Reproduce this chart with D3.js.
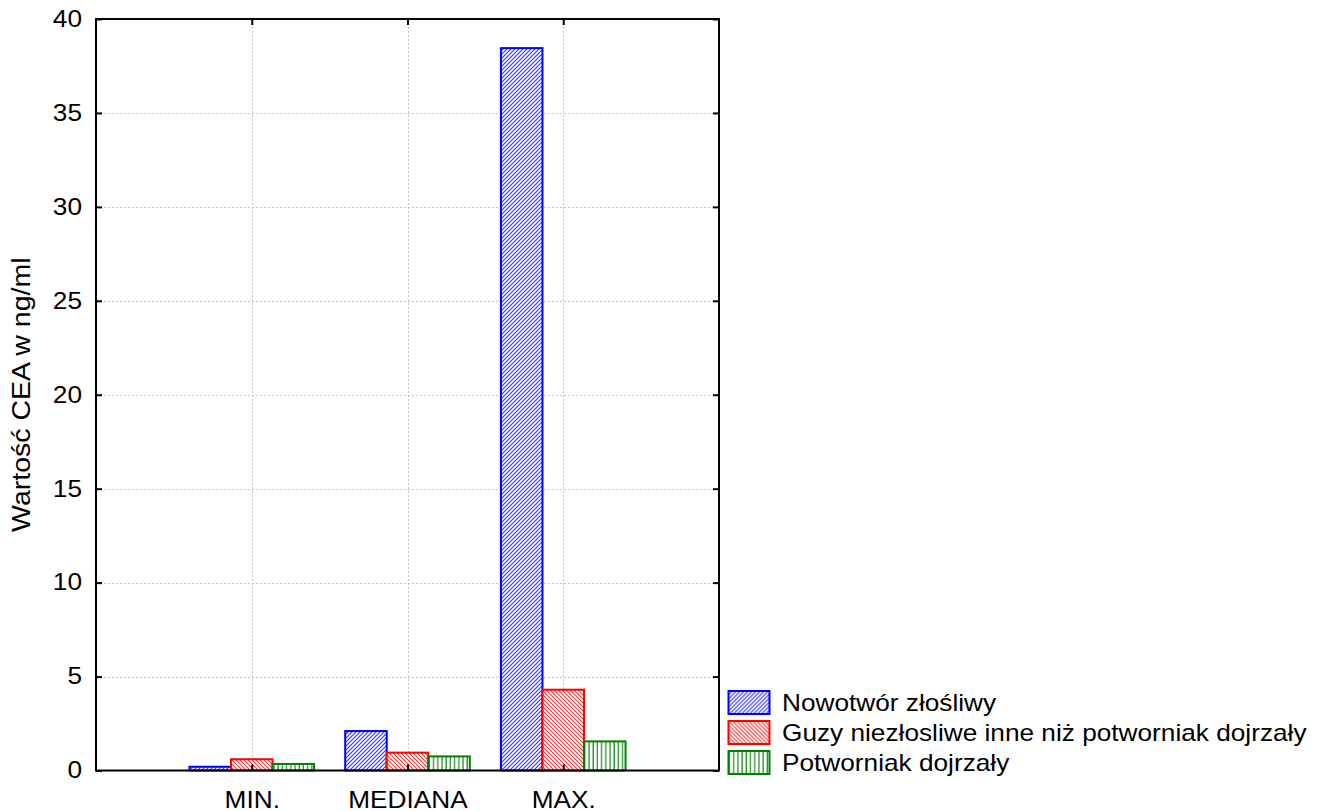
<!DOCTYPE html>
<html>
<head>
<meta charset="utf-8">
<script src="https://cdn.jsdelivr.net/npm/d3@7"></script>
<style>
  html, body { margin: 0; padding: 0; background: #fff; }
  svg { display: block; font-family: "Liberation Sans", Arial, sans-serif; }
</style>
</head>
<body>
<svg id="chart" width="1328" height="811"></svg>
<script>
// Categories along the x axis
const categories = ["MIN.", "MEDIANA", "MAX."];
// Series names (legend order)
const seriesNames = [
  "Nowotwór złośliwy",
  "Guzy niezłosliwe inne niż potworniak dojrzały",
  "Potworniak dojrzały"
];
// CEA values (ng/ml) per series, aligned with categories
const malignant = [0.2, 2.1, 38.45];
const benignOther = [0.6, 0.95, 4.3];
const matureTeratoma = [0.35, 0.75, 1.55];
// Y axis ticks
const yTicks = [0, 5, 10, 15, 20, 25, 30, 35, 40];
const yTitle = "Wartość CEA w ng/ml";

const seriesValues = [malignant, benignOther, matureTeratoma];
const strokeColors = ["#0000ff", "#ff0000", "#008000"];

const svg = d3.select("#chart");
const frame = { left: 96, right: 719, top: 19, bottom: 770.5 };
const fontSize = "23px";
const stretch = 1.14; // horizontal glyph stretch of the chart's typography

const x = d3.scaleLinear().domain([0, 4]).range([frame.left, frame.right]);
const y = d3.scaleLinear().domain([0, 40]).range([frame.bottom, frame.top]);
const barW = 0.2667; // in category units

// Hatch patterns
const defs = svg.append("defs");
function diag(id, color, dir) {
  const p = defs.append("pattern").attr("id", id)
    .attr("patternUnits", "userSpaceOnUse").attr("width", 4).attr("height", 4);
  p.append("rect").attr("width", 4).attr("height", 4).attr("fill", "#fff");
  const d = dir > 0
    ? "M-1,1 L1,-1 M0,4 L4,0 M3,5 L5,3"
    : "M-1,3 L1,5 M0,0 L4,4 M3,-1 L5,1";
  p.append("path").attr("d", d).attr("stroke", color).attr("stroke-width", 1.2);
}
diag("hatchBlue", "#3a3aff", 1);
diag("hatchRed", "#ff3a3a", -1);
const pv = defs.append("pattern").attr("id", "hatchGreen")
  .attr("patternUnits", "userSpaceOnUse").attr("width", 4.2).attr("height", 4);
pv.append("rect").attr("width", 4.2).attr("height", 4).attr("fill", "#fff");
pv.append("line").attr("x1", 1).attr("x2", 1).attr("y1", 0).attr("y2", 4)
  .attr("stroke", "#008000").attr("stroke-width", 1.1);
const fills = ["url(#hatchBlue)", "url(#hatchRed)", "url(#hatchGreen)"];

// Grid lines
const grid = svg.append("g").attr("stroke", "#c4c4c4").attr("stroke-dasharray", "2,2").attr("stroke-width", 1);
grid.selectAll("line.h").data(yTicks.filter(t => t > 0 && t < 40)).join("line")
  .attr("x1", frame.left).attr("x2", frame.right)
  .attr("y1", d => Math.round(y(d)) + 0.5).attr("y2", d => Math.round(y(d)) + 0.5);
grid.selectAll("line.v").data(categories).join("line")
  .attr("x1", (d, i) => Math.round(x(i + 1)) + 0.5).attr("x2", (d, i) => Math.round(x(i + 1)) + 0.5)
  .attr("y1", frame.top).attr("y2", frame.bottom);

// Bars
const bars = [];
categories.forEach((c, ci) => {
  seriesValues.forEach((vals, si) => {
    bars.push({ ci, si, v: vals[ci] });
  });
});
svg.append("g").selectAll("rect").data(bars).join("rect")
  .attr("x", d => x(d.ci + 1 + (d.si - 1.5) * barW))
  .attr("width", d => x(barW) - x(0))
  .attr("y", d => y(d.v))
  .attr("height", d => y(0) - y(d.v))
  .attr("fill", d => fills[d.si])
  .attr("stroke", d => strokeColors[d.si])
  .attr("stroke-width", 2);

// Axes
const yAxis = d3.axisLeft(y).tickValues(yTicks).tickSize(-6).tickPadding(14).tickFormat(d3.format("d"));
const gy = svg.append("g").attr("transform", `translate(${frame.left},0)`).call(yAxis);
const yAxisR = d3.axisRight(y).tickValues(yTicks).tickSize(-6).tickFormat("");
const gyr = svg.append("g").attr("transform", `translate(${frame.right},0)`).call(yAxisR);
const xAxis = d3.axisBottom(x).tickValues([1, 2, 3]).tickSize(-6).tickPadding(21)
  .tickFormat(d => categories[d - 1]);
const gx = svg.append("g").attr("transform", `translate(0,${frame.bottom})`).call(xAxis);
const xAxisT = d3.axisTop(x).tickValues([1, 2, 3]).tickSize(-6).tickFormat("");
const gxt = svg.append("g").attr("transform", `translate(0,${frame.top})`).call(xAxisT);
[gy, gyr, gx, gxt].forEach(g => {
  g.select(".domain").remove();
  g.selectAll(".tick line").attr("stroke", "#000").attr("stroke-width", 2);
  g.selectAll(".tick text").attr("fill", "#000").style("font-size", fontSize)
    .style("font-family", "'Liberation Sans', Arial, sans-serif")
    .each(function () {
      const t = d3.select(this);
      const tx = +(t.attr("x") || 0);
      t.attr("x", tx / stretch).attr("transform", `scale(${stretch},1)`);
    });
});

// Frame
svg.append("rect")
  .attr("x", frame.left).attr("y", frame.top)
  .attr("width", frame.right - frame.left).attr("height", frame.bottom - frame.top)
  .attr("fill", "none").attr("stroke", "#000").attr("stroke-width", 2);

// Y axis title
svg.append("text")
  .attr("transform", `translate(29.5,${(frame.top + frame.bottom) / 2}) rotate(-90) scale(${stretch},1)`)
  .attr("text-anchor", "middle")
  .style("font-size", "25px")
  .text(yTitle);

// Legend
const legend = svg.append("g").attr("transform", "translate(728.5,691)");
seriesNames.forEach((name, i) => {
  const row = legend.append("g").attr("transform", `translate(0,${i * 30})`);
  row.append("rect").attr("width", 41).attr("height", 23)
    .attr("fill", fills[i]).attr("stroke", strokeColors[i]).attr("stroke-width", 2);
  row.append("text")
    .attr("transform", `translate(53.5,19.7) scale(${stretch},1)`)
    .style("font-size", fontSize).text(name);
});
</script>
</body>
</html>
